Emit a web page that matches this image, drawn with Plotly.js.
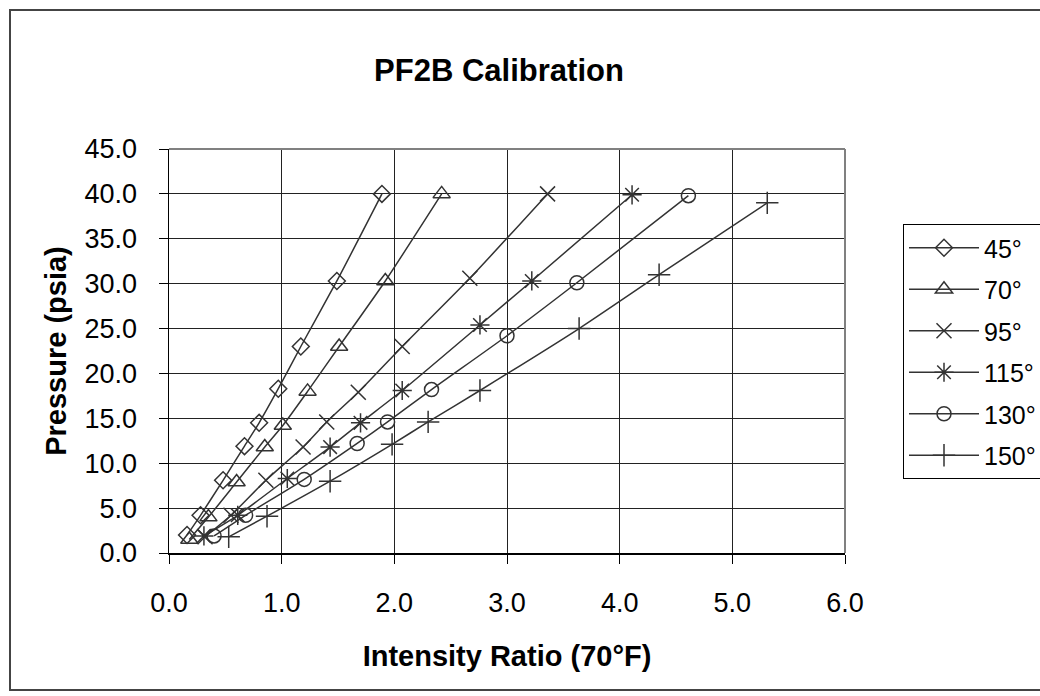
<!DOCTYPE html>
<html>
<head>
<meta charset="utf-8">
<script src="https://cdn.plot.ly/plotly-3.0.1.min.js"></script>
<style>html,body{margin:0;padding:0;background:#fff;overflow:hidden;}#chart{width:1040px;height:696px;}</style>
</head>
<body>
<div id="chart"></div>
<script>
// Series data (Intensity Ratio vs Pressure)
const seriesNames = ["45°", "70°", "95°", "115°", "130°", "150°"];
const x45  = [0.16, 0.28, 0.48, 0.67, 0.80, 0.97, 1.17, 1.49, 1.89];
const y45  = [2.0, 4.2, 8.1, 11.9, 14.5, 18.3, 23.0, 30.3, 40.0];
const x70  = [0.18, 0.35, 0.60, 0.85, 1.01, 1.23, 1.51, 1.92, 2.42];
const y70  = [1.5, 4.0, 7.9, 11.8, 14.2, 18.0, 23.0, 30.3, 40.0];
const x95  = [0.32, 0.55, 0.86, 1.19, 1.40, 1.68, 2.07, 2.67, 3.36];
const y95  = [1.8, 4.2, 8.1, 11.8, 14.6, 17.9, 23.0, 30.6, 40.0];
const x115 = [0.31, 0.61, 1.05, 1.43, 1.70, 2.07, 2.76, 3.22, 4.11];
const y115 = [1.9, 4.2, 8.3, 11.8, 14.5, 18.1, 25.4, 30.3, 39.9];
const x130 = [0.40, 0.68, 1.20, 1.67, 1.94, 2.33, 3.00, 3.62, 4.61];
const y130 = [1.9, 4.2, 8.2, 12.2, 14.6, 18.2, 24.2, 30.1, 39.8];
const x150 = [0.53, 0.87, 1.43, 1.98, 2.30, 2.76, 3.64, 4.35, 5.31];
const y150 = [1.8, 4.1, 8.0, 12.1, 14.6, 18.1, 25.0, 31.0, 39.0];
const xTickVals = [0, 1, 2, 3, 4, 5, 6];
const yTickVals = [0, 5, 10, 15, 20, 25, 30, 35, 40, 45];

const xs = [x45, x70, x95, x115, x130, x150];
const ys = [y45, y70, y95, y115, y130, y150];
const symbols = ["diamond-open", "triangle-up-open", "x-thin-open", "asterisk-open", "circle-open", "cross-thin-open"];
const sizes = [13, 15, 15, 16, 14, 16];
const ink = "#333333";
const FONT = "Liberation Sans, Arial, sans-serif";

const traces = seriesNames.map((name, i) => ({
  type: "scatter",
  mode: "lines+markers",
  name: name,
  x: xs[i],
  y: ys[i],
  legendgroup: "g" + i,
  line: {color: ink, width: 1.5, shape: "spline", smoothing: 0.6},
  marker: {symbol: symbols[i], size: sizes[i], color: ink, line: {color: ink, width: 1.5}}
}));

const L = 169, R = 845, T = 149, B = 553, W = 1040, H = 696;
const pw = R - L, ph = B - T;
const px = v => (v - L) / pw;
const py = v => (B - v) / ph;

const layout = {
  width: W, height: H,
  margin: {l: L, r: W - R, t: T, b: H - B, pad: 0},
  paper_bgcolor: "#ffffff",
  plot_bgcolor: "#ffffff",
  font: {family: FONT, color: "#000000"},
  title: {
    text: "<b>PF2B Calibration</b>",
    font: {family: FONT, size: 31, color: "#000000"},
    xref: "container", x: 499 / W, xanchor: "center",
    yref: "container", y: 1 - 70 / H, yanchor: "middle"
  },
  xaxis: {
    range: [0, 6],
    tickvals: xTickVals,
    ticktext: xTickVals.map(v => v.toFixed(1)),
    showgrid: true, gridcolor: "#222222", gridwidth: 1,
    zeroline: false,
    showline: true, linecolor: "#000000", linewidth: 1.5,
    ticks: "outside", ticklen: 9, tickcolor: "#000000", tickwidth: 1,
    ticklabelstandoff: 16,
    tickfont: {family: FONT, size: 27, color: "#000000"},
    title: {text: "<b>Intensity Ratio (70°F)</b>", font: {family: FONT, size: 29, color: "#000000"}, standoff: 29},
    automargin: false,
    fixedrange: true
  },
  yaxis: {
    range: [0, 45],
    tickvals: yTickVals,
    ticktext: yTickVals.map(v => v.toFixed(1)),
    showgrid: true, gridcolor: "#222222", gridwidth: 1,
    zeroline: false,
    showline: true, linecolor: "#000000", linewidth: 1.5,
    ticks: "outside", ticklen: 9, tickcolor: "#000000", tickwidth: 1,
    ticklabelstandoff: 16,
    tickfont: {family: FONT, size: 27, color: "#000000"},
    title: {text: "<b>Pressure (psia)</b>", font: {family: FONT, size: 29, color: "#000000"}, standoff: 9},
    automargin: false,
    fixedrange: true
  },
  showlegend: true,
  legend: {
    xref: "container", yref: "container",
    x: 903 / W, y: 1 - 224 / H, xanchor: "left", yanchor: "top",
    bgcolor: "#ffffff", bordercolor: "#000000", borderwidth: 1,
    font: {family: FONT, size: 25, color: "#000000"},
    itemwidth: 70,
    tracegroupgap: 6,
    traceorder: "grouped",
    itemclick: false, itemdoubleclick: false
  },
  shapes: [
    // plot-area top and right border (grey)
    {type: "line", xref: "paper", yref: "paper", x0: 0, x1: 1, y0: 1, y1: 1, line: {color: "#808080", width: 2}},
    {type: "line", xref: "paper", yref: "paper", x0: 1, x1: 1, y0: 0, y1: 1, line: {color: "#808080", width: 2}},
    // chart outer frame
    {type: "rect", xref: "paper", yref: "paper", x0: px(10), x1: px(1070), y0: py(690), y1: py(10), line: {color: "#444444", width: 2}, layer: "below"}
  ]
};

Plotly.newPlot("chart", traces, layout, {staticPlot: true, displayModeBar: false});
</script>
</body>
</html>
